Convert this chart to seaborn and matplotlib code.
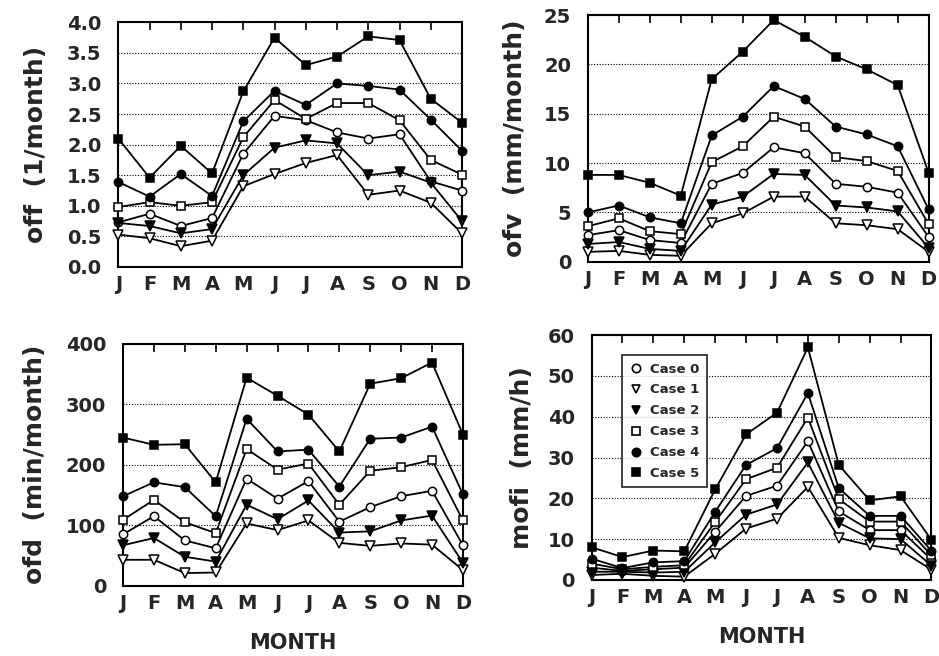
import numpy as np
import pandas as pd
import matplotlib
matplotlib.use("Agg")
import matplotlib.pyplot as plt
from matplotlib.lines import Line2D
import seaborn as sns

months = ["J", "F", "M", "A", "M", "J", "J", "A", "S", "O", "N", "D"]
cases = ["Case 0", "Case 1", "Case 2", "Case 3", "Case 4", "Case 5"]

# off (1/month)
off_c0 = [0.73, 0.87, 0.67, 0.80, 1.85, 2.47, 2.40, 2.20, 2.10, 2.17, 1.40, 1.25]
off_c1 = [0.53, 0.47, 0.34, 0.43, 1.32, 1.52, 1.70, 1.83, 1.18, 1.25, 1.05, 0.55]
off_c2 = [0.72, 0.67, 0.55, 0.62, 1.50, 1.95, 2.07, 2.02, 1.50, 1.56, 1.38, 0.75]
off_c3 = [0.98, 1.06, 1.00, 1.06, 2.12, 2.73, 2.42, 2.68, 2.68, 2.40, 1.75, 1.51]
off_c4 = [1.39, 1.15, 1.52, 1.16, 2.38, 2.88, 2.65, 3.00, 2.96, 2.90, 2.41, 1.90]
off_c5 = [2.10, 1.46, 1.98, 1.53, 2.87, 3.75, 3.30, 3.44, 3.77, 3.71, 2.75, 2.36]

# ofv (mm/month)
ofv_c0 = [2.7, 3.2, 2.2, 1.9, 7.9, 9.0, 11.6, 11.0, 7.9, 7.6, 7.0, 2.5]
ofv_c1 = [1.0, 1.1, 0.7, 0.6, 3.9, 4.9, 6.6, 6.6, 3.9, 3.7, 3.3, 1.0]
ofv_c2 = [1.8, 2.0, 1.3, 1.1, 5.8, 6.6, 8.9, 8.8, 5.7, 5.5, 5.1, 1.4]
ofv_c3 = [3.6, 4.4, 3.1, 2.8, 10.1, 11.7, 14.7, 13.7, 10.6, 10.2, 9.2, 3.8]
ofv_c4 = [5.0, 5.7, 4.5, 3.9, 12.8, 14.7, 17.8, 16.5, 13.7, 12.9, 11.7, 5.3]
ofv_c5 = [8.8, 8.8, 8.0, 6.7, 18.5, 21.3, 24.5, 22.8, 20.8, 19.5, 17.9, 9.0]

# ofd (min/month)
ofd_c0 = [85, 115, 75, 62, 177, 144, 173, 106, 130, 148, 157, 67]
ofd_c1 = [43, 43, 21, 22, 103, 92, 108, 71, 66, 70, 68, 26]
ofd_c2 = [67, 79, 48, 40, 134, 110, 141, 88, 90, 108, 116, 38]
ofd_c3 = [109, 142, 105, 87, 226, 192, 202, 134, 190, 196, 208, 108]
ofd_c4 = [148, 171, 163, 115, 276, 222, 225, 164, 243, 245, 263, 151]
ofd_c5 = [245, 233, 234, 171, 344, 314, 283, 222, 334, 343, 369, 250]

# mofi (mm/h)
mofi_c0 = [3.0, 2.2, 2.6, 3.0, 11.8, 20.6, 23.1, 34.0, 16.8, 12.2, 12.2, 5.0]
mofi_c1 = [1.2, 1.5, 1.0, 0.8, 6.4, 12.6, 15.0, 22.8, 10.3, 8.5, 7.3, 2.5]
mofi_c2 = [2.0, 2.0, 1.8, 2.0, 9.2, 16.0, 18.5, 28.8, 14.0, 10.2, 10.0, 3.5]
mofi_c3 = [4.0, 2.6, 3.2, 3.6, 14.2, 24.7, 27.5, 39.8, 19.8, 14.3, 14.3, 6.0]
mofi_c4 = [5.2, 2.9, 4.3, 4.6, 16.7, 28.2, 32.3, 45.8, 22.5, 15.7, 15.7, 7.1]
mofi_c5 = [8.0, 5.6, 7.2, 7.0, 22.2, 35.7, 41.0, 57.0, 28.2, 19.5, 20.5, 9.8]

panels = [
    ("off  (1/month)", [off_c0, off_c1, off_c2, off_c3, off_c4, off_c5],
     (0, 4.0), np.arange(0, 4.01, 0.5), "{:.1f}"),
    ("ofv  (mm/month)", [ofv_c0, ofv_c1, ofv_c2, ofv_c3, ofv_c4, ofv_c5],
     (0, 25), np.arange(0, 26, 5), "{:.0f}"),
    ("ofd  (min/month)", [ofd_c0, ofd_c1, ofd_c2, ofd_c3, ofd_c4, ofd_c5],
     (0, 400), np.arange(0, 401, 100), "{:.0f}"),
    ("mofi  (mm/h)", [mofi_c0, mofi_c1, mofi_c2, mofi_c3, mofi_c4, mofi_c5],
     (0, 60), np.arange(0, 61, 10), "{:.0f}"),
]

marker_styles = {
    "Case 0": ("o", "white"),
    "Case 1": ("v", "white"),
    "Case 2": ("v", "black"),
    "Case 3": ("s", "white"),
    "Case 4": ("o", "black"),
    "Case 5": ("s", "black"),
}

sns.set_theme(style="white")
plt.rcParams["font.family"] = ["DejaVu Sans"]
plt.rcParams["font.weight"] = "bold"

fig = plt.figure(figsize=(9.39, 6.56), dpi=100)
positions = [
    [0.126, 0.593, 0.366, 0.373],
    [0.626, 0.601, 0.363, 0.376],
    [0.131, 0.107, 0.362, 0.369],
    [0.630, 0.116, 0.362, 0.373],
]
ylabel_pads = [14, 12, 14, 10]

x_idx = np.arange(12)
for i, (ylabel, series, ylim, yticks, fmt) in enumerate(panels):
    ax = fig.add_axes(positions[i])
    df = pd.DataFrame({
        "m": np.tile(x_idx, 6),
        "v": np.concatenate(series),
        "case": np.repeat(cases, 12),
    })
    for c in cases:
        mk, fc = marker_styles[c]
        sub = df[df["case"] == c]
        sns.lineplot(data=sub, x="m", y="v", ax=ax, color="black",
                     marker=mk, markersize=6 if mk != "v" else 7,
                     markerfacecolor=fc, markeredgecolor="black",
                     markeredgewidth=1.1, linewidth=1.3, legend=False,
                     clip_on=False, zorder=3)
    ax.set_xlim(0, 11)
    ax.set_ylim(*ylim)
    ax.set_xticks(x_idx)
    ax.set_xticklabels(months, fontsize=14, fontweight="bold")
    ax.set_yticks(yticks)
    ax.set_yticklabels([fmt.format(t) for t in yticks], fontsize=14,
                       fontweight="bold")
    ax.tick_params(axis="x", top=True, bottom=False, direction="in",
                   length=6, width=1.2, color="black", labelbottom=True,
                   labeltop=False, pad=6)
    ax.tick_params(axis="y", left=False, length=0, pad=12)
    ax.yaxis.grid(True, linestyle=(0, (1, 1.5)), color="black", linewidth=0.8)
    ax.xaxis.grid(False)
    for s in ax.spines.values():
        s.set_color("black")
        s.set_linewidth(1.5)
    ax.set_ylabel(ylabel, fontsize=18, fontweight="bold",
                  labelpad=ylabel_pads[i])
    if i >= 2:
        ax.set_xlabel("MONTH", fontsize=15, fontweight="bold", labelpad=14)
    else:
        ax.set_xlabel("")
    if i == 3:
        handles = []
        for c in cases:
            mk, fc = marker_styles[c]
            handles.append(Line2D([], [], linestyle="none", marker=mk,
                                  markersize=6, markerfacecolor=fc,
                                  markeredgecolor="black",
                                  markeredgewidth=1.2))
        leg = ax.legend(handles, cases, loc="upper left",
                        bbox_to_anchor=(0.07, 0.945), frameon=True,
                        fancybox=False, edgecolor="black",
                        prop={"size": 9.5, "weight": "bold"},
                        handlelength=1.0, handletextpad=0.6,
                        labelspacing=0.6, borderpad=0.55)
        leg.get_frame().set_linewidth(1.3)
        leg.set_zorder(5)

fig.savefig("out.png", dpi=100, facecolor="white")
